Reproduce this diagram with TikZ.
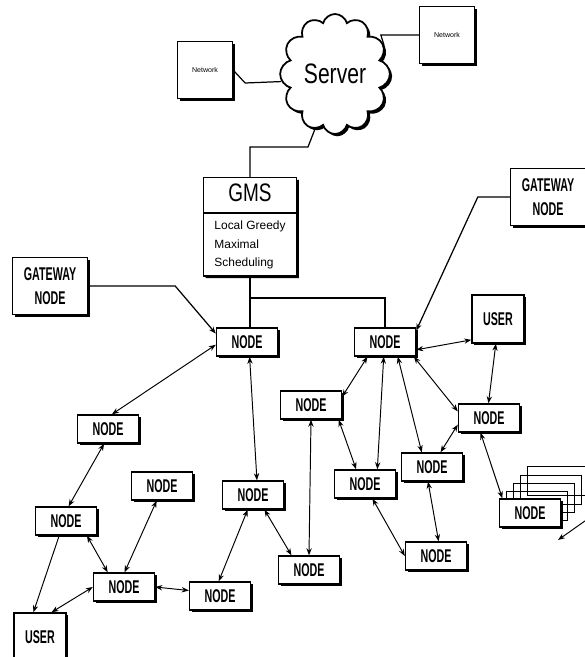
\documentclass[tikz,border=0pt]{standalone}
\usepackage{fontspec}
\usetikzlibrary{shapes.symbols,shapes.multipart,shadows,arrows.meta}
\newfontfamily\handfont[FakeStretch=0.58]{Liberation Sans}
\newfontfamily\plainfont[FakeStretch=0.75]{Liberation Sans}
\newfontfamily\notefont{Liberation Sans}
\newcommand\nodefont{\handfont\bfseries\fontsize{10.5}{14}\selectfont}

\tikzset{
  shade/.style={drop shadow={shadow xshift=.45mm, shadow yshift=-.45mm, fill=black, opacity=1}},
  unit/.style={draw, line width=.8pt, fill=white, font=\nodefont, minimum width=12.2mm, minimum height=5.6mm, inner sep=1pt, shade},
  gateway/.style={unit, align=center, minimum width=15mm, minimum height=11.4mm},
  user/.style={unit, minimum width=10.4mm, minimum height=9.6mm},
  ghost/.style={draw, line width=.7pt, minimum width=12.2mm, minimum height=5.8mm},
  netbox/.style={draw, line width=.7pt, fill=white, minimum width=11mm, minimum height=11.4mm, font=\notefont\fontsize{4}{5}\selectfont, shade},
  server/.style={cloud, cloud puffs=12, cloud ignores aspect, draw, line width=1pt, fill=white, minimum width=19mm, minimum height=24mm, font=\plainfont\fontsize{16}{18}\selectfont, shade},
  gmsbox/.style={rectangle split, rectangle split parts=2, draw, line width=.8pt, fill=white, minimum width=18.6mm, inner ysep=.6mm, shade},
  wire/.style={line width=.7pt},
  link/.style={<->, line width=.55pt}
}

\begin{document}
\begin{tikzpicture}[x=0.2mm, y=-0.2mm, >={Stealth[length=4pt,width=3pt]}]
  \useasboundingbox (0,0) rectangle (585,657);

  % top: server and its networks
  \node[netbox] (netL) at (205,70) {Network};
  \node[netbox] (netR) at (447,35) {Network};
  \node[server] (server) at (335,74) {Server};
  \node[gmsbox, anchor=north] (gms) at (250,177)
    {\plainfont\fontsize{14.4}{16}\selectfont\rule[-1.6mm]{0pt}{5.6mm}GMS
     \nodepart{two}\notefont\fontsize{6.8}{10.5}\selectfont
     \begin{tabular}{@{}l@{}}Local Greedy\\Maximal\\Scheduling\end{tabular}};

  % gateways and users
  \node[gateway] (gwL) at (50,286) {GATEWAY\\NODE};
  \node[gateway] (gwR) at (548,197) {GATEWAY\\NODE};
  \node[user] (userR) at (498,319) {USER};
  \node[user] (userL) at (40,637) {USER};

  % nodes
  \node[unit] (n1)  at (247,342) {NODE};
  \node[unit] (n2)  at (385,342) {NODE};
  \node[unit] (n3)  at (489,418) {NODE};
  \node[unit] (n4)  at (311,405) {NODE};
  \node[unit] (n5)  at (365,484) {NODE};
  \node[unit] (n6)  at (432,467) {NODE};
  \node[unit] (n7)  at (309,570) {NODE};
  \node[unit] (n8)  at (436,556) {NODE};
  \node[unit] (n9)  at (253,495) {NODE};
  \node[unit] (n11) at (108,429) {NODE};
  \node[unit] (n12) at (66,521)  {NODE};
  \node[unit] (n13) at (124,587) {NODE};
  \node[unit] (n14) at (162,486) {NODE};
  \node[unit] (n15) at (220,596) {NODE};

  % stacked nodes
  \foreach \i/\dx/\dy in {4/28/-32, 3/21/-23, 2/14/-15, 1/7/-7}
    \node[ghost] (ns\i) at (530+\dx,513+\dy) {};
  \node[unit] (ns) at (530,513) {NODE};
  \coordinate (feed) at (592,516);
  \coordinate (feedtip) at (558,540);

  % server wiring
  \draw[wire] (netL.east) -- ++(12,13) -- (server.188);
  \draw[wire] (netR.west) -- ++(-38,0) -- (server.30);
  \draw[wire] (server.250) -- ++(-7,18) -| (gms.north);
  \coordinate (tap) at (250,298);
  \draw[wire] (gms.south) -- (gms.south |- n1.north);
  \draw[wire] (tap) -| (n2.north);

  % gateways
  \draw[wire, ->] (gwL.east) -- ++(87,0) -- (n1.165);
  \draw[wire, ->] (gwR.west) -- ++(-32,0) -- (n2.20);

  % links
  \draw[link] (n1.185) -- (n11.75);
  \draw[link] (n1.-80) -- (n9.75);
  \draw[link] (n11.-105) -- (n12.80);
  \draw[->, line width=.55pt] (n12.-115) -- (userL.105);
  \draw[link] (n12.-35) -- (n13.138);
  \draw[link] (n14.-110) -- (n13.88);
  \draw[link] (n13.west) -- (userL.65);
  \draw[link] (n13.east) -- (n15.170);
  \draw[link] (n9.-110) -- (n15.95);
  \draw[link] (n9.-52) -- (n7.140);
  \draw[link] (n4.south) -- (n7.north);
  \draw[link] (n2.-140) -- (n4.15);
  \draw[link] (n2.-95) -- (n5.50);
  \draw[link] (n2.-49) -- (n6.125);
  \draw[link] (n2.-27) -- (n3.168);
  \draw[link] (n2.-14) -- (userR.218);
  \draw[link] (userR.-95) -- (n3.92);
  \draw[link] (n4.-28) -- (n5.121);
  \draw[link] (n6.60) -- (n3.192);
  \draw[link] (n5.-63) -- (n8.west);
  \draw[link] (n6.-105) -- (n8.80);
  \draw[link] (n3.-120) -- (ns.152);
  \draw[->, line width=.55pt] (feed) -- (feedtip);
\end{tikzpicture}
\end{document}
